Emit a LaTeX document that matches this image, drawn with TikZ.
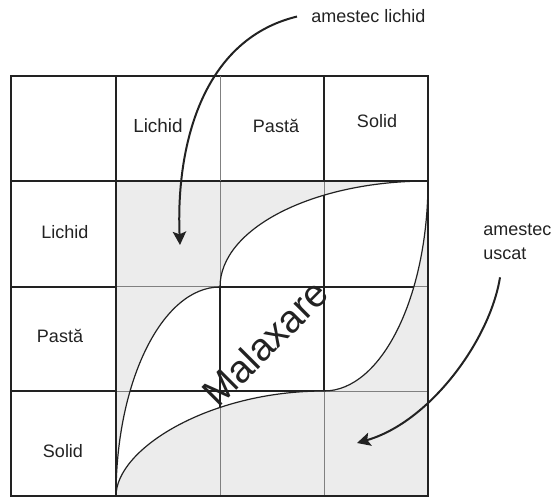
\documentclass[tikz,border=0pt]{standalone}
\usepackage{fontspec}
\setmainfont{Liberation Sans}
\usetikzlibrary{calc, arrows.meta}

\definecolor{inkgray}{HTML}{222222}
\definecolor{fillgray}{HTML}{ECECEC}
\definecolor{thingray}{HTML}{808080}

\begin{document}
\begin{tikzpicture}[
					x=0.75pt, y=-0.75pt,
					celltext/.style={
						anchor=base,
						inner sep=0pt,
						text=inkgray,
						font=\fontsize{13.5}{16}\selectfont
					},
					sidetext/.style={
						inner sep=0pt,
						align=left,
						text=inkgray,
						font=\fontsize{13.5}{18}\selectfont
					},
					thickline/.style={line width=1.5pt, draw=inkgray},
					thinline/.style={line width=0.75pt, draw=thingray},
					edgecurve/.style={line width=0.9pt, draw=inkgray},
					bendarrow/.style={line width=1.5pt, draw=inkgray, -{Stealth[length=10pt, width=10pt, inset=2pt]}}
					]
					\useasboundingbox (0,0) rectangle (556,498);
					
					% Shaded block
					\fill[fillgray] (116,181) rectangle (428,496);
					\foreach \x in {220,324} \draw[thinline] (\x,181) -- (\x,496);
					\foreach \y in {287,391} \draw[thinline] (116,\y) -- (428,\y);
					
					% White leaf between the two curves
					\draw[edgecurve, fill=white] (116,496) .. controls (116,380.6) and (162.6,287) .. (220,287)
					.. controls (220,228.5) and (313.1,181) .. (428,181)
					.. controls (428,297) and (381.4,391) .. (324,391)
					.. controls (209.1,391) and (116,449) .. (116,496) -- cycle;
					\begin{scope}
						\clip (116,496) .. controls (116,380.6) and (162.6,287) .. (220,287)
						.. controls (220,228.5) and (313.1,181) .. (428,181)
						.. controls (428,297) and (381.4,391) .. (324,391)
						.. controls (209.1,391) and (116,449) .. (116,496) -- cycle;
						\foreach \x in {220,324} \draw[thickline] (\x,181) -- (\x,496);
						\foreach \y in {287,391} \draw[thickline] (116,\y) -- (428,\y);
					\end{scope}
					
					% Table frame
					\draw[thickline] (11,76) rectangle (428,496);
					\draw[thickline] (116,76) -- (116,496);
					\draw[thickline] (11,181) -- (428,181);
					\foreach \y in {287,391} \draw[thickline] (11,\y) -- (116,\y);
					\draw[thickline] (324,76) -- (324,181);
					\draw[thinline] (220,76) -- (220,181);
					
					% Headers
					\node (hlichid) [celltext, font=\fontsize{14.2}{16}\selectfont] at (158,133) {Lichid};
					\node (hpasta) [celltext] at (276,133) {Pastă};
					\node (hsolid) [celltext] at (377,128) {Solid};
					\node (rlichid) [celltext] at (65,239) {Lichid};
					\node (rpasta) [celltext] at (60,343) {Pastă};
					\node (rsolid) [celltext] at (63,457) {Solid};
					
					\node (malaxare) [rotate=45, inner sep=0pt, text=inkgray, font=\fontsize{29}{32}\selectfont] at (265,343) {Malaxare};
					
					% Mixture labels and arrows
					\node (lichidlbl) [sidetext, anchor=base west] at (311,23) {amestec lichid};
					\node (uscatlbl) [sidetext, anchor=north west] at (483,224) {amestec\\uscat};
					\coordinate (lichidtip) at (180,245);
					\coordinate (uscattip) at (357,443);
					
					\draw[bendarrow] ([xshift=-10.5pt]lichidlbl.west) .. controls (200,40) and (176,150) .. (lichidtip);
					\draw[bendarrow] ($(uscatlbl.south west)+(17,17)$) .. controls (490,340) and (430,422) .. (uscattip);
					
				\end{tikzpicture}
\end{document}
